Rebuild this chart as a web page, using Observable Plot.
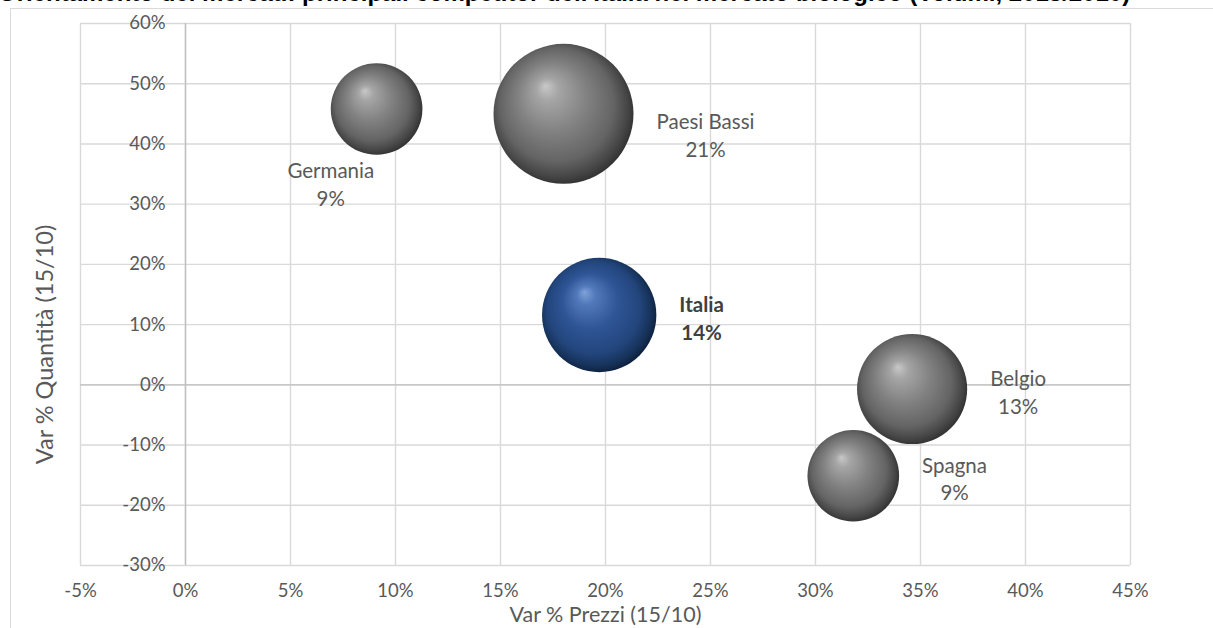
<!DOCTYPE html>
<html>
<head>
<meta charset="utf-8">
<script src="https://cdn.jsdelivr.net/npm/d3@7"></script>
<script src="https://cdn.jsdelivr.net/npm/@observablehq/plot@0.6"></script>
<style>
  html, body { margin: 0; padding: 0; background: #fff; }
  #wrap { position: relative; width: 1213px; height: 628px; overflow: hidden; background: #fff; }
  #title { position: absolute; left: -2px; top: -19px; white-space: nowrap; font: bold 24px "Liberation Sans", Arial, sans-serif; color: #000; line-height: 24px; }
  #frame { position: absolute; left: 10px; top: 8px; width: 1230px; height: 660px; border: 1px solid #d9d9d9; box-sizing: border-box; }
  #chart { position: absolute; left: 0; top: 0; }
</style>
</head>
<body>
<div id="wrap">
  <div id="title">Orientamento dei mercati: principali competitor dell'Italia nel mercato biologico (Volumi, 2015/2010)</div>
  <div id="frame"></div>
  <div id="chart"></div>
</div>
<script>
// ---- data ----
const countries = ["Germania", "Paesi Bassi", "Italia", "Belgio", "Spagna"];
const prezzi    = [0.091, 0.180, 0.197, 0.346, 0.318];   // Var % Prezzi (15/10)
const quantita  = [0.458, 0.450, 0.116, -0.007, -0.151]; // Var % Quantità (15/10)
const quota     = [0.09, 0.21, 0.14, 0.13, 0.09];        // bubble size / label
const xTicks = [-0.05, 0, 0.05, 0.10, 0.15, 0.20, 0.25, 0.30, 0.35, 0.40, 0.45];
const yTicks = [-0.30, -0.20, -0.10, 0, 0.10, 0.20, 0.30, 0.40, 0.50, 0.60];
const xLabel = "Var % Prezzi (15/10)";
const yLabel = "Var % Quantità (15/10)";

const rows = countries.map((c, i) => ({country: c, x: prezzi[i], y: quantita[i], s: quota[i]}));
const pct = d => `${Math.round(d * 100)}%`;

const FONT = "Lato, 'Open Sans', sans-serif";
const FS_TICK = 18.5;
const FS_LAB = 20.5;
const FS_TITLE = 21.5;
const canvas = document.createElement("canvas");
const ctx = canvas.getContext("2d");
function textW(t, bold) { ctx.font = `${bold ? "bold " : ""}${FS_LAB}px Lato`; return ctx.measureText(t).width; }

const rScale = d3.scaleSqrt().domain([0, 0.21]).range([0, 70]);

const labelMarks = rows.map(d => {
  const bold = d.country === "Italia";
  const text = `${d.country}\n${pct(d.s)}`;
  const w = Math.max(textW(d.country, bold), textW(pct(d.s), bold));
  const r = rScale(d.s);
  let dx = r + 23 + w / 2, dy = 2;
  if (d.country === "Germania") { dx = -r; dy = r + 28; }
  if (d.country === "Paesi Bassi") { dy = 20; }
  return Plot.text([d], {
    x: "x", y: "y", text: () => text, dx, dy,
    textAnchor: "middle", lineAnchor: "middle", lineHeight: 1.35,
    fontSize: FS_LAB, fontFamily: FONT, fontWeight: bold ? "bold" : "normal",
    fill: bold ? "#404040" : "#595959"
  });
});

const chart = Plot.plot({
  width: 1213, height: 628,
  marginLeft: 80, marginRight: 83, marginTop: 23, marginBottom: 63,
  x: {domain: [-0.05, 0.45], axis: null},
  y: {domain: [-0.30, 0.60], axis: null},
  r: {type: "sqrt", domain: [0, 0.21], range: [0, 70]},
  style: {fontFamily: FONT, background: "transparent"},
  marks: [
    Plot.ruleX(xTicks, {stroke: "#d9d9d9", strokeWidth: 1.4}),
    Plot.ruleY(yTicks, {stroke: "#d9d9d9", strokeWidth: 1.4}),
    Plot.ruleX([0], {stroke: "#bfbfbf", strokeWidth: 1.4}),
    Plot.ruleY([0], {stroke: "#bfbfbf", strokeWidth: 1.4}),
    Plot.text(yTicks, {x: 0, y: d => d, text: pct, textAnchor: "end", dx: -20, fontSize: FS_TICK, fill: "#595959", fontFamily: FONT}),
    Plot.text(xTicks, {x: d => d, text: pct, frameAnchor: "bottom", dy: 26, lineAnchor: "middle", fontSize: FS_TICK, fill: "#595959", fontFamily: FONT}),
    Plot.text([xLabel], {text: d => d, frameAnchor: "bottom", dy: 50, textAnchor: "middle", lineAnchor: "middle", fontSize: FS_TITLE, fill: "#595959", fontFamily: FONT}),
    Plot.text([yLabel], {text: d => d, frameAnchor: "left", dx: -35, dy: 50, rotate: -90, textAnchor: "middle", lineAnchor: "middle", fontSize: 23.5, fill: "#595959", fontFamily: FONT}),
    Plot.dot(rows, {x: "x", y: "y", r: "s", fill: d => d.country === "Italia" ? "url(#sphereBlue)" : "url(#sphereGray)", stroke: "none"}),
    ...labelMarks
  ]
});

// sphere gradients
const ns = "http://www.w3.org/2000/svg";
const defs = document.createElementNS(ns, "defs");
function grad(id, stops) {
  const g = document.createElementNS(ns, "radialGradient");
  g.setAttribute("id", id);
  g.setAttribute("cx", "0.48"); g.setAttribute("cy", "0.48"); g.setAttribute("r", "0.54");
  g.setAttribute("fx", "0.37"); g.setAttribute("fy", "0.30");
  for (const [o, c] of stops) {
    const s = document.createElementNS(ns, "stop");
    s.setAttribute("offset", o); s.setAttribute("stop-color", c);
    g.appendChild(s);
  }
  defs.appendChild(g);
}
grad("sphereGray", [[0, "#c8c8c8"], [0.15, "#a5a5a5"], [0.45, "#828282"], [0.75, "#646464"], [0.9, "#464646"], [1, "#2e2e2e"]]);
grad("sphereBlue", [[0, "#7fa3d9"], [0.15, "#5279bb"], [0.45, "#2f5596"], [0.75, "#22457c"], [0.9, "#163259"], [1, "#0c1d38"]]);
chart.insertBefore(defs, chart.firstChild);
document.getElementById("chart").appendChild(chart);
</script>
</body>
</html>
